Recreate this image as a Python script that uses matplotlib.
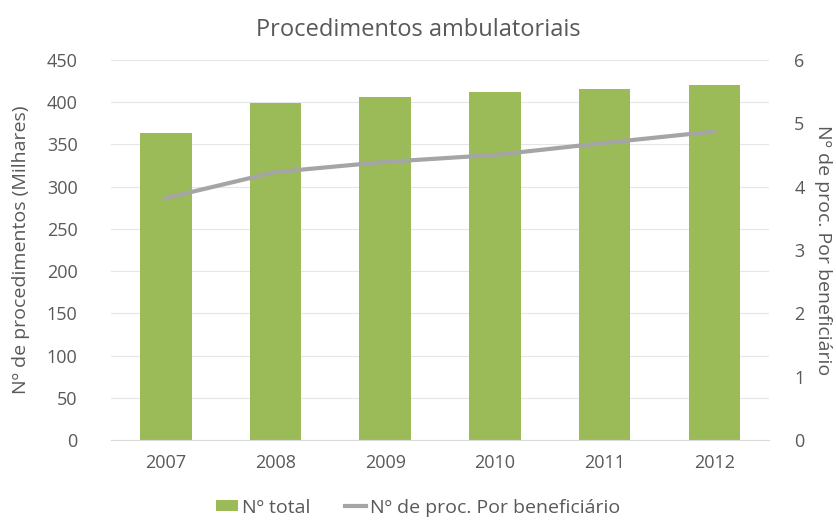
import matplotlib
matplotlib.use("Agg")
import matplotlib.pyplot as plt
from matplotlib.lines import Line2D
from matplotlib.patches import Patch

plt.rcParams['font.family'] = ['Open Sans', 'DejaVu Sans']

# Dados: procedimentos ambulatoriais por ano
anos = ['2007', '2008', '2009', '2010', '2011', '2012']
total_milhares = [364, 399, 406, 412, 416, 420]
proc_por_benef = [3.82, 4.23, 4.39, 4.50, 4.69, 4.87]

verde = '#9BBB59'
cinza = '#A5A5A5'
texto = '#595959'

fig = plt.figure(figsize=(8.37, 5.21), dpi=100)
ax = fig.add_axes([0.1326, 0.1555, 0.7864, 0.7295])
ax2 = ax.twinx()

x = range(len(anos))
ax.bar(x, total_milhares, width=0.47, color=verde, zorder=2)
ax2.plot(x, proc_por_benef, color=cinza, linewidth=3, zorder=3)

ax.set_ylim(0, 450)
ax.set_yticks(range(0, 451, 50))
ax2.set_ylim(0, 6)
ax2.set_yticks(range(0, 7))
ax.set_xlim(-0.5, len(anos) - 0.5)
ax.set_xticks(list(x))
ax.set_xticklabels(anos)

ax.grid(axis='y', color='#E6E6E6', linewidth=0.8, zorder=0)
ax.set_axisbelow(True)
for a in (ax, ax2):
    for s in a.spines.values():
        s.set_visible(False)
    a.tick_params(length=0, colors=texto, labelsize=13)
ax.spines['bottom'].set_visible(True)
ax.spines['bottom'].set_color('#D9D9D9')
ax.tick_params(axis='y', pad=24)
ax.tick_params(axis='x', pad=10)
ax2.tick_params(axis='y', pad=18)

ax.set_ylabel('Nº de procedimentos (Milhares)', color=texto, fontsize=14, labelpad=12)
ax2.set_ylabel('Nº de proc. Por beneficiário', color=texto, fontsize=14,
               rotation=270, labelpad=20)
fig.suptitle('Procedimentos ambulatoriais', color=texto, fontsize=17, x=0.5, y=0.965)

handles = [Patch(facecolor=verde, edgecolor='none', label='Nº total'),
           Line2D([0], [0], color=cinza, linewidth=3, label='Nº de proc. Por beneficiário')]
fig.legend(handles=handles, loc='lower center', bbox_to_anchor=(0.5, -0.025), ncol=2,
           frameon=False, fontsize=14, labelcolor=texto, handlelength=1.1,
           handleheight=0.5, handletextpad=0.2, columnspacing=1.8)

fig.savefig('out.png', dpi=100, facecolor='white')
